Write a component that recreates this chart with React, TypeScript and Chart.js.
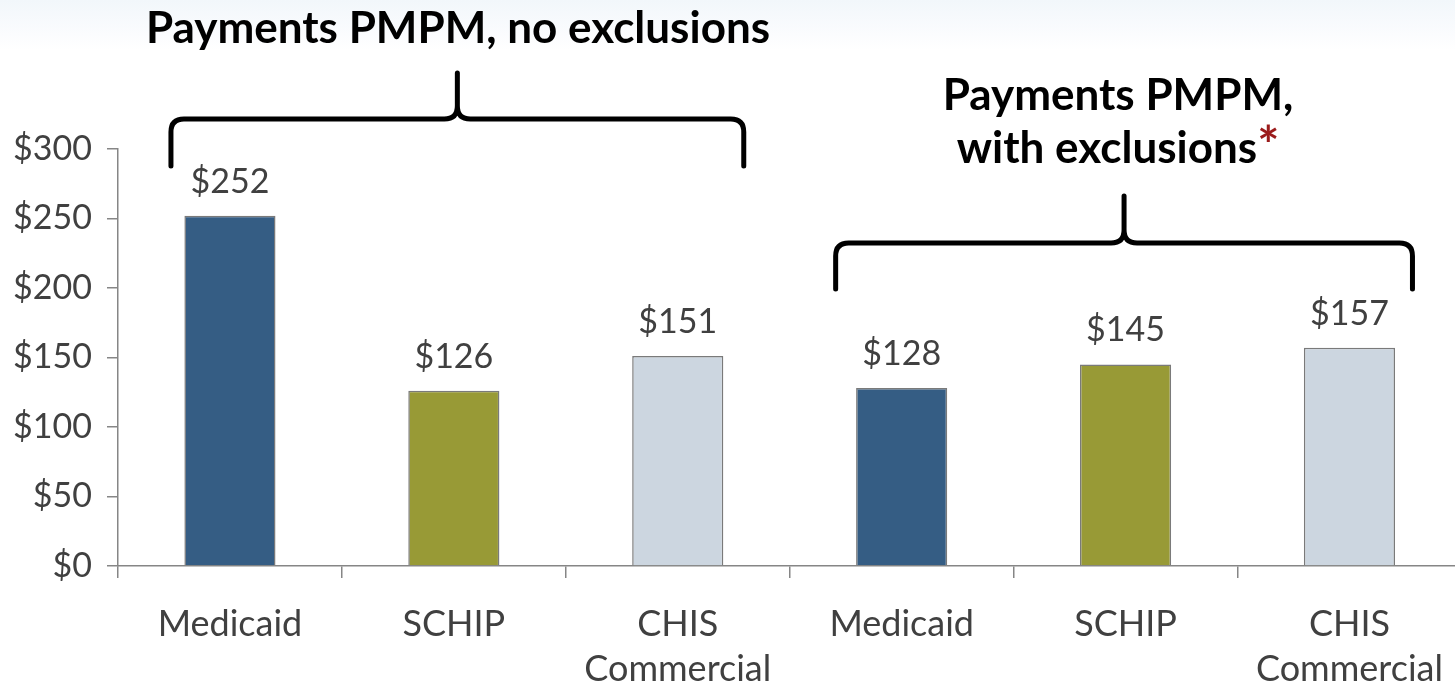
import React, { useEffect, useRef } from "react";
import { Chart, registerables } from "chart.js";

Chart.register(...registerables);

const categories: (string | string[])[] = [
  "Medicaid",
  "SCHIP",
  ["CHIS", "Commercial"],
  "Medicaid",
  "SCHIP",
  ["CHIS", "Commercial"],
];
const payments: number[] = [252, 126, 151, 128, 145, 157];
const barColors: string[] = ["#355d84", "#989a36", "#ccd6e0", "#355d84", "#989a36", "#ccd6e0"];
const yTicks: number[] = [0, 50, 100, 150, 200, 250, 300];
const groupTitles: string[] = ["Payments PMPM, no exclusions", "Payments PMPM,", "with exclusions"];

const FONT = "Lato, 'Noto Sans', sans-serif";
const TEXT_COLOR = "#404040";
const AXIS_COLOR = "#868686";

const labelPlugin = {
  id: "valueLabels",
  afterDatasetsDraw(chart: any) {
    const ctx = chart.ctx;
    const meta = chart.getDatasetMeta(0);
    ctx.save();
    ctx.font = `34px ${FONT}`;
    ctx.fillStyle = TEXT_COLOR;
    ctx.textAlign = "center";
    ctx.textBaseline = "alphabetic";
    meta.data.forEach((bar: any, i: number) => {
      ctx.fillText("$" + payments[i], bar.x, bar.y - 23);
    });
    ctx.restore();
  },
};

function drawBrace(ctx: CanvasRenderingContext2D, left: number, right: number, yH: number, yEnd: number, yTip: number) {
  const r = 13;
  const xm = (left + right) / 2;
  ctx.beginPath();
  ctx.moveTo(left, yEnd);
  ctx.lineTo(left, yH + r);
  ctx.quadraticCurveTo(left, yH, left + r, yH);
  ctx.lineTo(xm - r, yH);
  ctx.quadraticCurveTo(xm, yH, xm, yH - r);
  ctx.lineTo(xm, yTip);
  ctx.moveTo(xm, yH - r);
  ctx.quadraticCurveTo(xm, yH, xm + r, yH);
  ctx.lineTo(right - r, yH);
  ctx.quadraticCurveTo(right, yH, right, yH + r);
  ctx.lineTo(right, yEnd);
  ctx.stroke();
}

const bracePlugin = {
  id: "braces",
  afterDraw(chart: any) {
    const ctx = chart.ctx;
    const x = chart.scales.x;
    ctx.save();
    ctx.strokeStyle = "#000";
    ctx.lineWidth = 5;
    ctx.lineCap = "round";
    ctx.lineJoin = "round";
    drawBrace(ctx, x.getPixelForValue(0) - 59, x.getPixelForValue(2) + 66, 119, 166, 73);
    drawBrace(ctx, x.getPixelForValue(3) - 66, x.getPixelForValue(5) + 63, 243, 289, 196);
    ctx.restore();
  },
};

export default function App() {
  const canvasRef = useRef<HTMLCanvasElement | null>(null);

  useEffect(() => {
    if (!canvasRef.current) return;
    const chart = new Chart(canvasRef.current, {
      type: "bar",
      data: {
        labels: categories,
        datasets: [
          {
            data: payments,
            backgroundColor: barColors,
            borderColor: "#7a7a7a",
            borderWidth: 1.5,
            barPercentage: 0.407,
            categoryPercentage: 1,
          },
        ],
      },
      plugins: [labelPlugin, bracePlugin],
      options: {
        responsive: false,
        maintainAspectRatio: false,
        animation: false,
        devicePixelRatio: 1,
        layout: { padding: { top: 149, right: 1, left: 0, bottom: 0 } },
        plugins: {
          legend: { display: false },
          tooltip: { enabled: false },
        },
        scales: {
          x: {
            offset: true,
            grid: {
              offset: true,
              drawOnChartArea: false,
              drawTicks: true,
              tickLength: 12,
              color: AXIS_COLOR,
              lineWidth: 1.5,
            },
            border: { display: true, color: AXIS_COLOR, width: 1.5 },
            ticks: {
              color: TEXT_COLOR,
              padding: 24,
              maxRotation: 0,
              autoSkip: false,
              font: { family: FONT, size: 36, lineHeight: 1.25 },
            },
            afterFit: (scale: any) => {
              scale.height = 121;
            },
          },
          y: {
            min: 0,
            max: 300,
            afterBuildTicks: (scale: any) => {
              scale.ticks = yTicks.map((v) => ({ value: v }));
            },
            grid: {
              drawOnChartArea: false,
              drawTicks: true,
              tickLength: 11,
              color: AXIS_COLOR,
              lineWidth: 1.5,
            },
            border: { display: true, color: AXIS_COLOR, width: 1.5 },
            ticks: {
              color: TEXT_COLOR,
              padding: 15,
              font: { family: FONT, size: 34 },
              callback: (v: any) => "$" + v,
            },
            afterFit: (scale: any) => {
              scale.width = 118;
            },
          },
        },
      },
    });
    return () => chart.destroy();
  }, []);

  const titleStyle: React.CSSProperties = {
    position: "absolute",
    width: 800,
    textAlign: "center",
    fontFamily: FONT,
    fontWeight: 700,
    fontSize: 44,
    lineHeight: "53px",
    color: "#000",
    whiteSpace: "nowrap",
  };

  return (
    <div
      style={{
        position: "fixed",
        left: 0,
        top: 0,
        width: 1455,
        height: 687,
        overflow: "hidden",
        background: "linear-gradient(to bottom, #f2f7fb 0px, #fbfcfe 35px, #ffffff 50px, #ffffff 100%)",
      }}
    >
      <canvas
        ref={canvasRef}
        width={1467}
        height={687}
        style={{ position: "absolute", left: 0, top: 0, width: 1467, height: 687 }}
      />
      <div style={{ ...titleStyle, left: 458 - 400, top: 0 }}>{groupTitles[0]}</div>
      <div style={{ ...titleStyle, left: 1118 - 400, top: 67 }}>
        {groupTitles[1]}
        <br />
        {groupTitles[2]}
        <span style={{ color: "#9b1b1b", fontSize: 52, verticalAlign: "top", lineHeight: "48px" }}>*</span>
      </div>
    </div>
  );
}
